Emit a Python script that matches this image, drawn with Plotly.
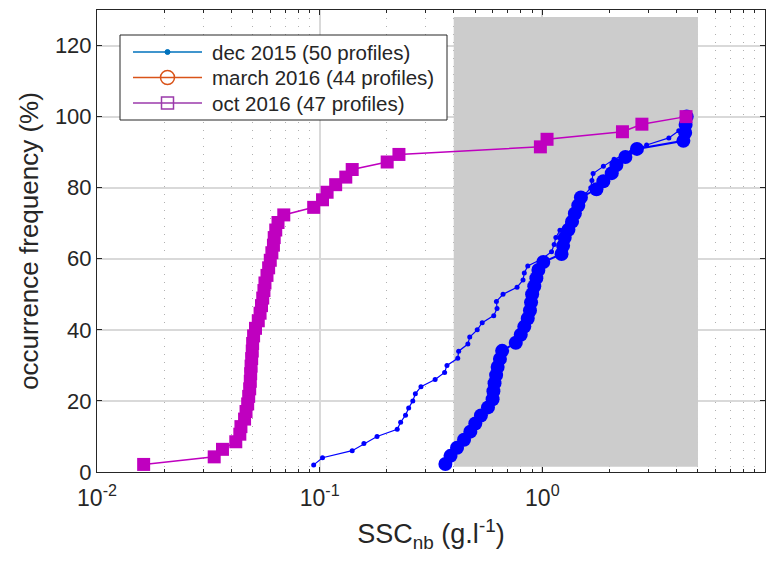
import plotly.graph_objects as go

# ---------------- data ----------------
dec_x = [0.094, 0.103, 0.140, 0.158, 0.181, 0.223, 0.231, 0.243, 0.251, 0.262,
         0.269, 0.285, 0.330, 0.364, 0.373, 0.417, 0.421, 0.463, 0.472, 0.510,
         0.537, 0.605, 0.626, 0.622, 0.666, 0.770, 0.819, 0.830, 0.860, 1.000,
         1.100, 1.130, 1.150, 1.200, 1.300, 1.360, 1.400, 1.450, 1.550, 1.650,
         1.670, 1.690, 1.880, 2.100, 2.500, 2.940, 3.700, 4.100, 4.400, 4.500]
dec_y = [2, 4, 6, 8, 10, 12, 14, 16, 18, 20, 22, 24, 26, 28, 30, 32, 34, 36, 38, 40,
         42, 44, 46, 48, 50, 52, 54, 56, 58, 60, 62, 64, 66, 68, 70, 72, 74, 76, 78, 80,
         82, 84, 86, 88, 90, 92, 94, 96, 98, 100]

mar_x = [0.367, 0.387, 0.414, 0.445, 0.475, 0.500, 0.530, 0.570, 0.598, 0.603,
         0.610, 0.620, 0.630, 0.645, 0.660, 0.760, 0.800, 0.830, 0.860, 0.880,
         0.890, 0.900, 0.920, 0.940, 0.960, 1.010, 1.220, 1.240, 1.260, 1.310,
         1.360, 1.400, 1.450, 1.490, 1.750, 1.880, 2.050, 2.150, 2.360, 2.660,
         4.300, 4.380, 4.400, 4.450]
mar_y = [2.27, 4.55, 6.82, 9.09, 11.36, 13.64, 15.91, 18.18, 20.45, 22.73,
         25.00, 27.27, 29.55, 31.82, 34.09, 36.36, 38.64, 40.91, 43.18, 45.45,
         47.73, 50.00, 52.27, 54.55, 56.82, 59.09, 61.36, 63.64, 65.91, 68.18,
         70.45, 72.73, 75.00, 77.27, 79.55, 81.82, 84.09, 86.36, 88.64, 90.91,
         93.18, 95.45, 97.73, 100.0]

oct_x = [0.0162, 0.0336, 0.0366, 0.0420, 0.0438, 0.0443, 0.0460, 0.0467, 0.0475, 0.0480,
         0.0485, 0.0488, 0.0490, 0.0492, 0.0495, 0.0498, 0.0500, 0.0505, 0.0515, 0.0530,
         0.0540, 0.0548, 0.0555, 0.0562, 0.0568, 0.0580, 0.0590, 0.0600, 0.0610, 0.0620,
         0.0625, 0.0635, 0.0650, 0.0690, 0.0940, 0.1030, 0.1080, 0.1180, 0.1310, 0.1400,
         0.2010, 0.2270, 0.9800, 1.0500, 2.2900, 2.8000, 4.4200]
oct_y = [2.13, 4.26, 6.38, 8.51, 10.64, 12.77, 14.89, 17.02, 19.15, 21.28,
         23.40, 25.53, 27.66, 29.79, 31.91, 34.04, 36.17, 38.30, 40.43, 42.55,
         44.68, 46.81, 48.94, 51.06, 53.19, 55.32, 57.45, 59.57, 61.70, 63.83,
         65.96, 68.09, 70.21, 72.34, 74.47, 76.60, 78.72, 80.85, 82.98, 85.11,
         87.23, 89.36, 91.49, 93.62, 95.74, 97.87, 100.0]

band_x = [0.4, 5, 5, 0.4, 0.4]
band_y = [1.5, 1.5, 128, 128, 1.5]

legend_names = ["dec 2015 (50 profiles)", "march 2016 (44 profiles)", "oct 2016 (47 profiles)"]
legend_colors = ["#0072BD", "#D95319", "#9b3aab"]

x_tickvals = [0.01, 0.1, 1, 10]
x_ticktext = ["10<sup>-2</sup>", "10<sup>-1</sup>", "10<sup>0</sup>", "10<sup>1</sup>"]
x_minor = [m * d for d in (0.01, 0.1, 1) for m in range(2, 10)]
y_tickvals = [0, 20, 40, 60, 80, 100, 120]

# ---------------- layout geometry (pixels) ----------------
W, H = 779, 565
ML, MR, MT, MB = 97, 14, 10, 93
PW, PH = W - ML - MR, H - MT - MB


def px(x):
    return (x - ML) / PW


def py(y):
    return (H - MB - y) / PH


axis_col = "#262626"
text_col = "#262626"

# ---------------- figure ----------------
fig = go.Figure()

fig.add_trace(go.Scatter(x=band_x, y=band_y, mode="lines", fill="toself",
                         fillcolor="#cccccc", line=dict(width=0, color="#cccccc"),
                         showlegend=False, hoverinfo="skip"))

fig.add_trace(go.Scatter(x=dec_x, y=dec_y, mode="lines+markers", name=legend_names[0],
                         line=dict(color="#0000ff", width=1.2),
                         marker=dict(color="#0000ff", size=5, symbol="circle"),
                         showlegend=False))
fig.add_trace(go.Scatter(x=mar_x, y=mar_y, mode="lines+markers", name=legend_names[1],
                         line=dict(color="#0000ff", width=2),
                         marker=dict(color="#0000ff", size=14, symbol="circle"),
                         showlegend=False))
fig.add_trace(go.Scatter(x=oct_x, y=oct_y, mode="lines+markers", name=legend_names[2],
                         line=dict(color="#bf00bf", width=1.5),
                         marker=dict(color="#bf00bf", size=13, symbol="square"),
                         showlegend=False))

# ---------------- hand-built legend (MATLAB style) ----------------
shapes = []
annotations = []
shapes.append(dict(type="rect", xref="paper", yref="paper",
                   x0=px(120), x1=px(447), y0=py(120), y1=py(35),
                   fillcolor="white", line=dict(color=axis_col, width=1), layer="above"))
rows = [52, 77.5, 103]
for i, (name, col, r) in enumerate(zip(legend_names, legend_colors, rows)):
    shapes.append(dict(type="line", xref="paper", yref="paper",
                       x0=px(133), x1=px(202), y0=py(r), y1=py(r),
                       line=dict(color=col, width=1.5), layer="above"))
    cx, cy = px(167.5), py(r)
    if i == 0:
        shapes.append(dict(type="circle", xref="paper", yref="paper",
                           xsizemode="pixel", ysizemode="pixel", xanchor=cx, yanchor=cy,
                           x0=-2.5, x1=2.5, y0=-2.5, y1=2.5,
                           fillcolor=col, line=dict(color=col, width=1), layer="above"))
    elif i == 1:
        shapes.append(dict(type="circle", xref="paper", yref="paper",
                           xsizemode="pixel", ysizemode="pixel", xanchor=cx, yanchor=cy,
                           x0=-7, x1=7, y0=-7, y1=7,
                           line=dict(color=col, width=1.5), layer="above"))
    else:
        shapes.append(dict(type="rect", xref="paper", yref="paper",
                           xsizemode="pixel", ysizemode="pixel", xanchor=cx, yanchor=cy,
                           x0=-6, x1=6, y0=-6, y1=6,
                           line=dict(color=col, width=1.5), layer="above"))
    annotations.append(dict(xref="paper", yref="paper", x=px(210), y=py(r),
                            xanchor="left", yanchor="middle", showarrow=False,
                            text=name, font=dict(size=20.5, color=text_col)))

fig.update_layout(
    width=W, height=H,
    margin=dict(l=ML, r=MR, t=MT, b=MB),
    paper_bgcolor="white", plot_bgcolor="white",
    font=dict(family="Liberation Sans, Arial, sans-serif", color=text_col, size=20),
    showlegend=False,
    shapes=shapes, annotations=annotations,
    xaxis=dict(type="log", range=[-2, 1],
               tickvals=x_tickvals, ticktext=x_ticktext,
               tickfont=dict(size=23, color=text_col), ticklabelstandoff=5,
               ticks="inside", ticklen=5, tickcolor=axis_col,
               showline=True, linecolor=axis_col, linewidth=1, mirror="ticks",
               showgrid=True, gridcolor="#d9d9d9", gridwidth=1.5,
               minor=dict(tickvals=x_minor, ticks="inside", ticklen=3, tickcolor=axis_col,
                          showgrid=True, gridcolor="#b0b0b0", griddash="1px,7px", gridwidth=1),
               zeroline=False,
               title=dict(text="SSC<sub>nb</sub> (g.l<sup>-1</sup>)",
                          font=dict(size=27, color=text_col), standoff=14)),
    yaxis=dict(range=[0, 130], tickvals=y_tickvals,
               tickfont=dict(size=22, color=text_col),
               ticks="inside", ticklen=5, tickcolor=axis_col,
               showline=True, linecolor=axis_col, linewidth=1, mirror="ticks",
               showgrid=True, gridcolor="#d9d9d9", gridwidth=1.5,
               zeroline=False,
               title=dict(text="occurrence frequency (%)",
                          font=dict(size=26, color=text_col), standoff=8)),
)

fig.write_html("out.html")
